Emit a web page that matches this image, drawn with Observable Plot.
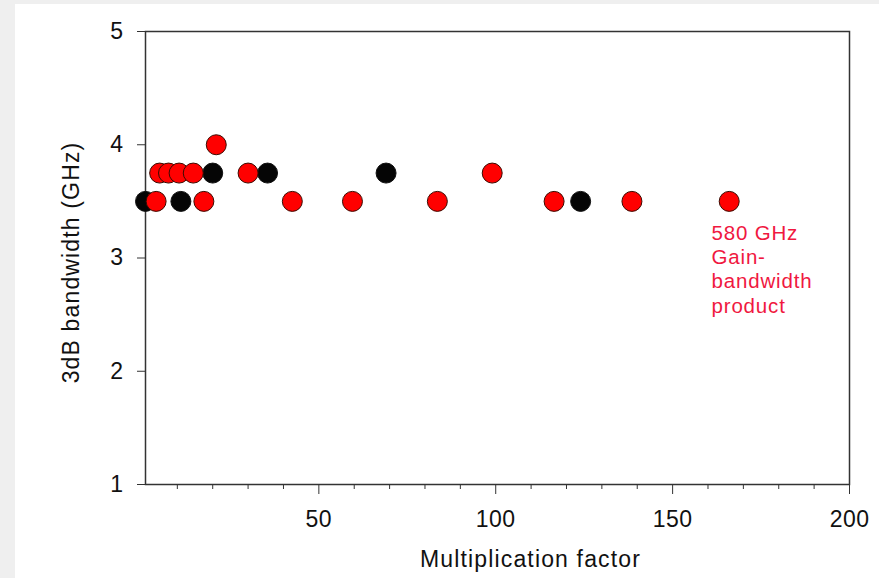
<!DOCTYPE html>
<html>
<head>
<meta charset="utf-8">
<script src="https://cdn.jsdelivr.net/npm/d3@7"></script>
<script src="https://cdn.jsdelivr.net/npm/@observablehq/plot@0.6"></script>
<style>
  html, body { margin: 0; padding: 0; background: #efefef; }
  #wrap { position: relative; width: 879px; height: 578px; overflow: hidden; }
  #panel { position: absolute; left: 15px; top: 4px; right: 0; bottom: 0; background: #ffffff; }
  #chart { position: absolute; left: 0; top: 0; }
  #chart g[aria-label="x-axis tick label"] text,
  #chart g[aria-label="y-axis tick label"] text { letter-spacing: 0.02em; }
</style>
</head>
<body>
<div id="wrap">
  <div id="panel"></div>
  <div id="chart"></div>
</div>
<script>
// Avalanche photodiode: 3dB bandwidth versus multiplication factor
const blackFactor = [1, 11, 20, 35.5, 69, 124];
const blackBandwidth = [3.5, 3.5, 3.75, 3.75, 3.75, 3.5];

const redFactor = [4, 17.5, 42.5, 59.5, 83.5, 116.5, 138.5, 166, 5, 7.5, 10.5, 14.5, 30, 99, 21];
const redBandwidth = [3.5, 3.5, 3.5, 3.5, 3.5, 3.5, 3.5, 3.5, 3.75, 3.75, 3.75, 3.75, 3.75, 3.75, 4.0];

const xMajorTicks = [50, 100, 150, 200];
const xMinorTicks = [10, 20, 30, 40, 60, 70, 80, 90, 110, 120, 130, 140, 160, 170, 180, 190];
const yTicks = [1, 2, 3, 4, 5];

const xLabel = "Multiplication factor";
const yLabel = "3dB bandwidth (GHz)";
const note = "580 GHz\nGain-\nbandwidth\nproduct";

const blackPoints = blackFactor.map((m, i) => ({m, bw: blackBandwidth[i]}));
const redPoints = redFactor.map((m, i) => ({m, bw: redBandwidth[i]}));

const chart = Plot.plot({
  width: 879,
  height: 578,
  marginLeft: 145,
  marginRight: 30,
  marginTop: 31,
  marginBottom: 94,
  style: {background: "transparent", fontFamily: "'Liberation Sans', Arial, sans-serif", fontSize: "23px", color: "#111"},
  x: {domain: [1, 200]},
  y: {domain: [1, 5]},
  marks: [
    Plot.frame({stroke: "#333", strokeWidth: 1.5}),
    Plot.axisX(xMinorTicks, {tickSize: 5, tickFormat: () => "", label: null, stroke: "#333"}),
    Plot.axisX(xMajorTicks, {tickSize: 10, tickPadding: 16, tickFormat: d => d, label: null, stroke: "#333", fontSize: 23}),
    Plot.axisY(yTicks, {tickSize: 8, tickPadding: 14, tickFormat: d => d, label: null, stroke: "#333", fontSize: 23}),
    Plot.text([xLabel], {frameAnchor: "bottom", textAnchor: "middle", dx: 33, dy: 75, lineAnchor: "middle", fontSize: 23, fill: "#111"}),
    Plot.text([yLabel], {frameAnchor: "left", textAnchor: "middle", rotate: -90, dx: -74, dy: 4.5, lineAnchor: "middle", fontSize: 23, fill: "#111"}),
    Plot.dot(blackPoints, {x: "m", y: "bw", r: 10, fill: "#050505", stroke: "#111", strokeWidth: 1}),
    Plot.dot(redPoints, {x: "m", y: "bw", r: 10, fill: "#ff0000", stroke: "#3a0a00", strokeWidth: 1}),
    Plot.text([note], {x: () => 161, y: () => 3.315, text: d => d, textAnchor: "start", lineAnchor: "top", lineHeight: 1.19, fontSize: 20.5, fill: "#f0183f"})
  ]
});

// Slightly wider letter spacing for the axis titles and the red note
d3.select(chart).selectAll("text").each(function () {
  const t = this.textContent;
  if (t === xLabel || t === yLabel) this.style.letterSpacing = "0.05em";
  else if (t.startsWith("580")) this.style.letterSpacing = "0.04em";
});

document.getElementById("chart").appendChild(chart);
</script>
</body>
</html>
